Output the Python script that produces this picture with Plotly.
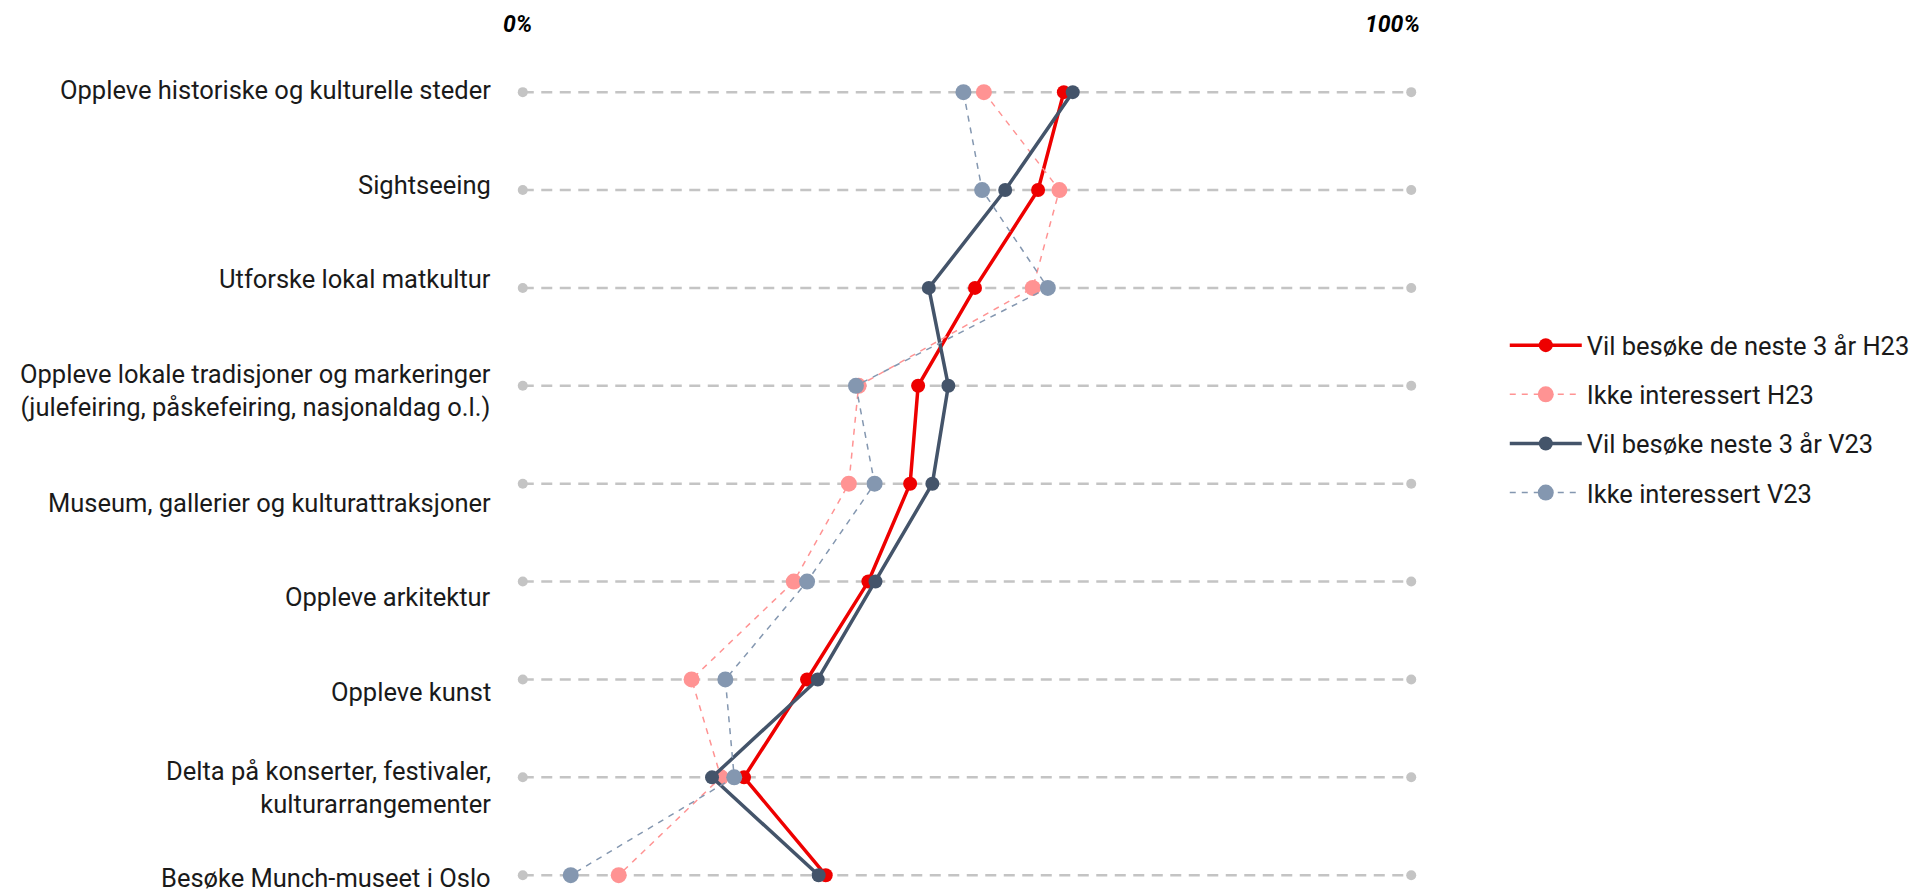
import plotly.graph_objects as go

categories = [
    "Oppleve historiske og kulturelle steder",
    "Sightseeing",
    "Utforske lokal matkultur",
    "Oppleve lokale tradisjoner og markeringer<br>(julefeiring, påskefeiring, nasjonaldag o.l.)",
    "Museum, gallerier og kulturattraksjoner",
    "Oppleve arkitektur",
    "Oppleve kunst",
    "Delta på konserter, festivaler,<br>kulturarrangementer",
    "Besøke Munch-museet i Oslo",
]

vil_h23 = [60.9, 58.0, 50.9, 44.5, 43.6, 38.9, 32.0, 24.9, 34.1]
ikke_h23 = [51.9, 60.4, 57.4, 37.8, 36.7, 30.5, 19.0, 22.3, 10.8]
vil_v23 = [61.9, 54.3, 45.7, 47.9, 46.1, 39.7, 33.2, 21.3, 33.3]
ikke_v23 = [49.6, 51.7, 59.1, 37.5, 39.6, 32.0, 22.8, 23.8, 5.4]

series_names = [
    "Vil besøke de neste 3 år H23",
    "Ikke interessert H23",
    "Vil besøke neste 3 år V23",
    "Ikke interessert V23",
]

axis_ends = [0, 100]
axis_labels = ["0%", "100%"]

# vertical nudge (px, downward) of each category label, as in the original layout
label_nudge = [-2.5, -5.5, -9, 4.7, 19, 15.5, 13, 9.7, 3]

FONT = "Roboto"
FS = 25.5
rows = list(range(len(categories)))

fig = go.Figure()

# background dashed guide lines per category
for r in rows:
    fig.add_trace(go.Scatter(
        x=axis_ends, y=[r, r], mode="lines+markers",
        line=dict(color="#c4c4c4", width=2.5, dash="11px,7.5px"),
        marker=dict(color="#c4c4c4", size=10),
        showlegend=False, hoverinfo="skip", cliponaxis=False,
    ))

styles = [
    (vil_h23, "#ee0000", 3.5, "solid", 14),
    (ikke_h23, "#ff9393", 1.5, "6px,6px", 16),
    (vil_v23, "#44546a", 3.5, "solid", 14),
    (ikke_v23, "#8497b0", 1.5, "6px,6px", 16),
]

for i, (vals, color, w, dash, ms) in enumerate(styles):
    fig.add_trace(go.Scatter(
        x=vals, y=rows, mode="lines+markers", name=series_names[i],
        line=dict(color=color, width=w, dash=dash),
        marker=dict(color=color, size=ms),
        legendgroup=f"g{i}", cliponaxis=False,
    ))

for xv, lab in zip(axis_ends, axis_labels):
    fig.add_annotation(
        x=xv, y=1, xref="x", yref="paper", yanchor="bottom", xanchor="right",
        yshift=13, xshift=11,
        text=f"<b><i>{lab}</i></b>", showarrow=False,
        font=dict(family=FONT, size=23, color="#000000"),
    )

for r, lab in enumerate(categories):
    fig.add_annotation(
        x=0, y=r, xref="paper", yref="y", xanchor="right", yanchor="middle",
        xshift=-13, yshift=-label_nudge[r], align="right",
        text=lab, showarrow=False, borderpad=0,
        font=dict(family=FONT, size=FS, color="#1a1a1a"),
    )

fig.update_layout(
    width=1911, height=891,
    margin=dict(l=505, r=482, t=53, b=6, autoexpand=False),
    plot_bgcolor="white", paper_bgcolor="white",
    font=dict(family=FONT, size=FS, color="#1a1a1a"),
    xaxis=dict(range=[-2, 102], showgrid=False, zeroline=False,
               showticklabels=False, showline=False),
    yaxis=dict(range=[8.1, -0.4], showgrid=False, zeroline=False,
               showticklabels=False, showline=False, ticks=""),
    legend=dict(x=1.082, y=0.56, xanchor="left", yanchor="middle",
                itemwidth=72, tracegroupgap=13, traceorder="grouped",
                font=dict(family=FONT, size=FS, color="#1a1a1a")),
    showlegend=True,
)

fig.write_html(
    "out.html",
    config={"displayModeBar": False},
    post_script="document.body.style.margin='0';document.body.style.overflow='hidden';",
)
